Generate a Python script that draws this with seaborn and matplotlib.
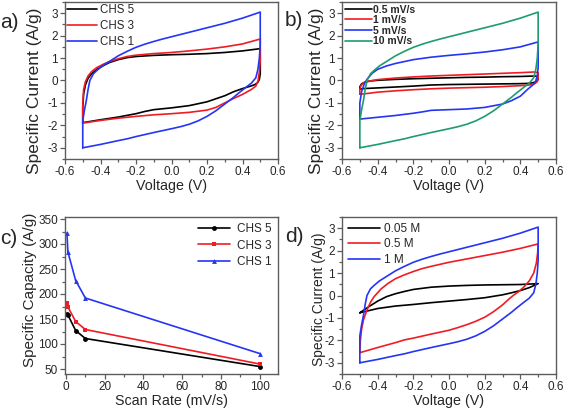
import numpy as np
import pandas as pd
import matplotlib
matplotlib.use('Agg')
import matplotlib.pyplot as plt
from matplotlib.ticker import MultipleLocator
import seaborn as sns

# ---- data ----
# CV loops: (voltage V, current A/g), forward scan then reverse scan
cv_chs1 = [(-0.5, -3.0), (-0.5, -1.8), (-0.49, -1.3), (-0.48, -0.9), (-0.47, -0.4), (-0.46, 0.0),
           (-0.44, 0.3), (-0.42, 0.45), (-0.39, 0.65), (-0.35, 0.85), (-0.3, 1.1), (-0.25, 1.3),
           (-0.2, 1.48), (-0.15, 1.62), (-0.1, 1.74), (-0.05, 1.85), (0.0, 1.95), (0.1, 2.15),
           (0.2, 2.35), (0.3, 2.55), (0.4, 2.78), (0.5, 3.05),
           (0.5, 1.6), (0.495, 1.0), (0.487, 0.5), (0.475, 0.12), (0.45, -0.12), (0.42, -0.3),
           (0.38, -0.55), (0.35, -0.75), (0.3, -1.05), (0.25, -1.35), (0.2, -1.6), (0.15, -1.8),
           (0.1, -1.95), (0.05, -2.06), (0.0, -2.15), (-0.1, -2.32), (-0.2, -2.5), (-0.25, -2.6),
           (-0.3, -2.68), (-0.4, -2.85), (-0.5, -3.0)]
cv_chs3 = [(-0.5, -1.9), (-0.5, -1.0), (-0.495, -0.4), (-0.485, -0.05), (-0.47, 0.2), (-0.45, 0.4),
           (-0.42, 0.58), (-0.38, 0.74), (-0.35, 0.84), (-0.3, 0.97), (-0.25, 1.07), (-0.2, 1.13),
           (-0.1, 1.2), (0.0, 1.25), (0.1, 1.32), (0.2, 1.4), (0.3, 1.5), (0.4, 1.63), (0.5, 1.85),
           (0.5, 0.9), (0.495, 0.4), (0.488, 0.0), (0.475, -0.25), (0.45, -0.4), (0.4, -0.62),
           (0.35, -0.8), (0.3, -1.0), (0.25, -1.2), (0.2, -1.32), (0.1, -1.42), (0.0, -1.48),
           (-0.1, -1.53), (-0.2, -1.6), (-0.3, -1.68), (-0.4, -1.78), (-0.5, -1.9)]
cv_chs5 = [(-0.5, -1.88), (-0.5, -1.2), (-0.495, -0.6), (-0.485, -0.2), (-0.47, 0.1), (-0.45, 0.3),
           (-0.42, 0.5), (-0.38, 0.68), (-0.35, 0.8), (-0.3, 0.93), (-0.25, 1.02), (-0.2, 1.07),
           (-0.1, 1.12), (0.0, 1.15), (0.1, 1.17), (0.2, 1.2), (0.3, 1.25), (0.4, 1.32), (0.5, 1.42),
           (0.5, 0.3), (0.495, 0.05), (0.485, -0.1), (0.47, -0.18), (0.45, -0.24), (0.4, -0.36),
           (0.35, -0.5), (0.3, -0.68), (0.2, -0.95), (0.1, -1.12), (0.0, -1.22), (-0.1, -1.3),
           (-0.15, -1.38), (-0.2, -1.48), (-0.3, -1.63), (-0.4, -1.75), (-0.5, -1.88)]

cv_5mv = [(-0.5, -1.72), (-0.5, -1.0), (-0.49, -0.5), (-0.475, -0.15), (-0.46, 0.05), (-0.43, 0.33),
          (-0.4, 0.5), (-0.35, 0.65), (-0.3, 0.76), (-0.2, 0.93), (-0.1, 1.04), (0.0, 1.12),
          (0.1, 1.19), (0.2, 1.27), (0.3, 1.37), (0.4, 1.5), (0.5, 1.72),
          (0.5, 0.6), (0.495, 0.2), (0.485, -0.05), (0.47, -0.2), (0.44, -0.4), (0.4, -0.7),
          (0.35, -0.9), (0.3, -1.05), (0.2, -1.2), (0.1, -1.27), (0.0, -1.3), (-0.1, -1.33),
          (-0.15, -1.4), (-0.2, -1.46), (-0.3, -1.56), (-0.4, -1.64), (-0.5, -1.72)]
cv_1mv = [(-0.5, -0.6), (-0.5, -0.4), (-0.495, -0.25), (-0.48, -0.1), (-0.45, -0.03), (-0.4, 0.04),
          (-0.3, 0.11), (-0.2, 0.16), (-0.1, 0.2), (0.0, 0.23), (0.1, 0.26), (0.2, 0.29),
          (0.3, 0.32), (0.4, 0.35), (0.48, 0.38), (0.5, 0.35),
          (0.5, 0.1), (0.495, -0.05), (0.48, -0.15), (0.45, -0.2), (0.4, -0.23), (0.3, -0.27),
          (0.2, -0.3), (0.1, -0.32), (0.0, -0.34), (-0.1, -0.37), (-0.2, -0.41), (-0.3, -0.46),
          (-0.4, -0.52), (-0.48, -0.6), (-0.5, -0.6)]
cv_05mv = [(-0.5, -0.38), (-0.5, -0.28), (-0.49, -0.15), (-0.47, -0.07), (-0.44, -0.02), (-0.4, 0.01),
           (-0.3, 0.05), (-0.2, 0.08), (-0.1, 0.1), (0.0, 0.12), (0.1, 0.14), (0.2, 0.15),
           (0.3, 0.17), (0.4, 0.18), (0.48, 0.2), (0.5, 0.18),
           (0.5, 0.05), (0.49, -0.05), (0.47, -0.1), (0.44, -0.13), (0.4, -0.14), (0.3, -0.15),
           (0.2, -0.16), (0.1, -0.17), (0.0, -0.18), (-0.1, -0.2), (-0.2, -0.25), (-0.3, -0.29),
           (-0.4, -0.33), (-0.48, -0.36), (-0.5, -0.38)]

cv_05M = [(-0.5, -2.55), (-0.497, -2.0), (-0.49, -1.5), (-0.48, -1.1), (-0.46, -0.65), (-0.44, -0.3),
          (-0.42, -0.05), (-0.38, 0.3), (-0.34, 0.55), (-0.3, 0.75), (-0.25, 0.92), (-0.2, 1.07),
          (-0.15, 1.2), (-0.1, 1.3), (0.0, 1.48), (0.1, 1.63), (0.2, 1.78), (0.3, 1.93),
          (0.4, 2.1), (0.5, 2.3),
          (0.497, 1.9), (0.49, 1.45), (0.475, 1.0), (0.45, 0.65), (0.42, 0.38), (0.39, 0.17),
          (0.36, 0.0), (0.33, -0.2), (0.3, -0.42), (0.25, -0.72), (0.2, -0.97), (0.15, -1.15),
          (0.1, -1.3), (0.05, -1.43), (0.0, -1.55), (-0.1, -1.72), (-0.2, -1.9), (-0.25, -1.98),
          (-0.3, -2.1), (-0.4, -2.32), (-0.5, -2.55)]
cv_005M = [(-0.5, -0.77), (-0.45, -0.5), (-0.4, -0.25), (-0.35, -0.05), (-0.3, 0.08), (-0.25, 0.18),
           (-0.2, 0.27), (-0.1, 0.37), (0.0, 0.42), (0.1, 0.45), (0.2, 0.47), (0.3, 0.48),
           (0.4, 0.49), (0.5, 0.53),
           (0.45, 0.35), (0.4, 0.22), (0.35, 0.12), (0.3, 0.03), (0.2, -0.1), (0.1, -0.18),
           (0.0, -0.25), (-0.1, -0.32), (-0.2, -0.4), (-0.3, -0.47), (-0.4, -0.58), (-0.5, -0.77)]

# capacity vs scan rate
scan_rate = [0.5, 1, 5, 10, 100]
cap_chs5 = [161, 158, 127, 111, 55]
cap_chs3 = [183, 174, 145, 129, 60]
cap_chs1 = [322, 284, 227, 192, 81]

# ---- style ----
sns.set_style('ticks')
plt.rcParams['font.family'] = ['Liberation Sans', 'DejaVu Sans']
plt.rcParams['axes.unicode_minus'] = False

RED = '#f01c24'
BLUE = '#2535f5'
GREEN = '#1e9c6c'
GRAY = '#5c5c5c'
XLAB = 10.3   # x labels are narrow in the original

fig = plt.figure(figsize=(5.67, 4.09), dpi=100)
W, H = 567, 409


def make_ax(l, t, r, b):
    return fig.add_axes([l / W, (H - b) / H, (r - l) / W, (b - t) / H])


def style_ax(ax, xmaj, xmin, ymaj, ymin):
    for s in ax.spines.values():
        s.set_color(GRAY)
        s.set_linewidth(1.0)
    ax.xaxis.set_major_locator(MultipleLocator(xmaj))
    ax.xaxis.set_minor_locator(MultipleLocator(xmin))
    ax.yaxis.set_major_locator(MultipleLocator(ymaj))
    ax.yaxis.set_minor_locator(MultipleLocator(ymin))
    ax.tick_params(which='both', direction='out', color=GRAY, width=0.9,
                   labelsize=8.5, pad=1.5, top=False, right=False)
    ax.tick_params(which='major', length=3.5)
    ax.tick_params(which='minor', length=2)


def draw_loop(ax, loop, color, label):
    df = pd.DataFrame(loop, columns=['v', 'i'])
    sns.lineplot(data=df, x='v', y='i', sort=False, estimator=None,
                 color=color, lw=1.2, label=label, ax=ax)


def set_ylab(ax, text, size, xc, yc):
    ax.set_ylabel(text, fontsize=size, va='center')
    ax.yaxis.set_label_coords(xc, yc)


def cv_axes(ax):
    ax.set_xlim(-0.6, 0.6)
    ax.set_ylim(-3.5, 3.5)
    style_ax(ax, 0.2, 0.1, 1, 0.5)
    ax.set_xlabel('Voltage (V)', fontsize=XLAB, labelpad=1)


# a)
ax1 = make_ax(65, 2, 278, 159)
draw_loop(ax1, cv_chs5, 'black', 'CHS 5')
draw_loop(ax1, cv_chs3, RED, 'CHS 3')
draw_loop(ax1, cv_chs1, BLUE, 'CHS 1')
cv_axes(ax1)
set_ylab(ax1, 'Specific Current (A/g)', 12.5, -0.1455, 0.433)
ax1.legend(loc='upper left', frameon=False, fontsize=8.3, handlelength=2.6,
           handletextpad=0.25, labelspacing=0.32, borderaxespad=0.1, borderpad=0.1)

# b)
ax2 = make_ax(342, 2, 556, 159)
draw_loop(ax2, cv_05mv, 'black', '0.5 mV/s')
draw_loop(ax2, cv_1mv, RED, '1 mV/s')
draw_loop(ax2, cv_5mv, BLUE, '5 mV/s')
draw_loop(ax2, cv_chs1, GREEN, '10 mV/s')
cv_axes(ax2)
set_ylab(ax2, 'Specific Current (A/g)', 12.5, -0.117, 0.433)
ax2.legend(loc='upper left', frameon=False, handlelength=2.6,
           handletextpad=0.15, labelspacing=0.05, borderaxespad=0.15, borderpad=0.1,
           prop={'weight': 'bold', 'size': 7.5})

# c)
ax3 = make_ax(65, 217, 278, 374)
for vals, color, mk, lab in [(cap_chs5, 'black', 'o', 'CHS 5'),
                             (cap_chs3, RED, 's', 'CHS 3'),
                             (cap_chs1, BLUE, '^', 'CHS 1')]:
    sns.lineplot(x=scan_rate, y=vals, color=color, marker=mk, markersize=3.5,
                 markeredgewidth=0, lw=1.2, label=lab, ax=ax3)
ax3.set_xlim(-0.5, 109.5)
ax3.set_ylim(40, 354)
style_ax(ax3, 20, 10, 50, 25)
ax3.set_xlabel('Scan Rate (mV/s)', fontsize=XLAB, labelpad=1)
set_ylab(ax3, 'Specific Capacity (A/g)', 11, -0.166, 0.535)
ax3.legend(loc='upper right', frameon=False, fontsize=8.5, handlelength=2.7,
           handletextpad=0.6, labelspacing=0.35, borderaxespad=0.15)

# d)
ax4 = make_ax(342, 217, 556, 374)
draw_loop(ax4, cv_005M, 'black', '0.05 M')
draw_loop(ax4, cv_05M, RED, '0.5 M')
draw_loop(ax4, cv_chs1, BLUE, '1 M')
cv_axes(ax4)
set_ylab(ax4, 'Specific Current (A/g)', 10, -0.108, 0.478)
ax4.legend(loc='upper left', frameon=False, fontsize=8.5, handlelength=2.7,
           handletextpad=0.4, labelspacing=0.3, borderaxespad=0.1)

# panel letters
for x, y, s in [(0, 22, 'a)'), (285, 20, 'b)'), (0, 238, 'c)'), (285, 236, 'd)')]:
    fig.text(x / W, 1 - y / H, s, fontsize=15, va='center', ha='left')

fig.savefig('out.png', dpi=100)
